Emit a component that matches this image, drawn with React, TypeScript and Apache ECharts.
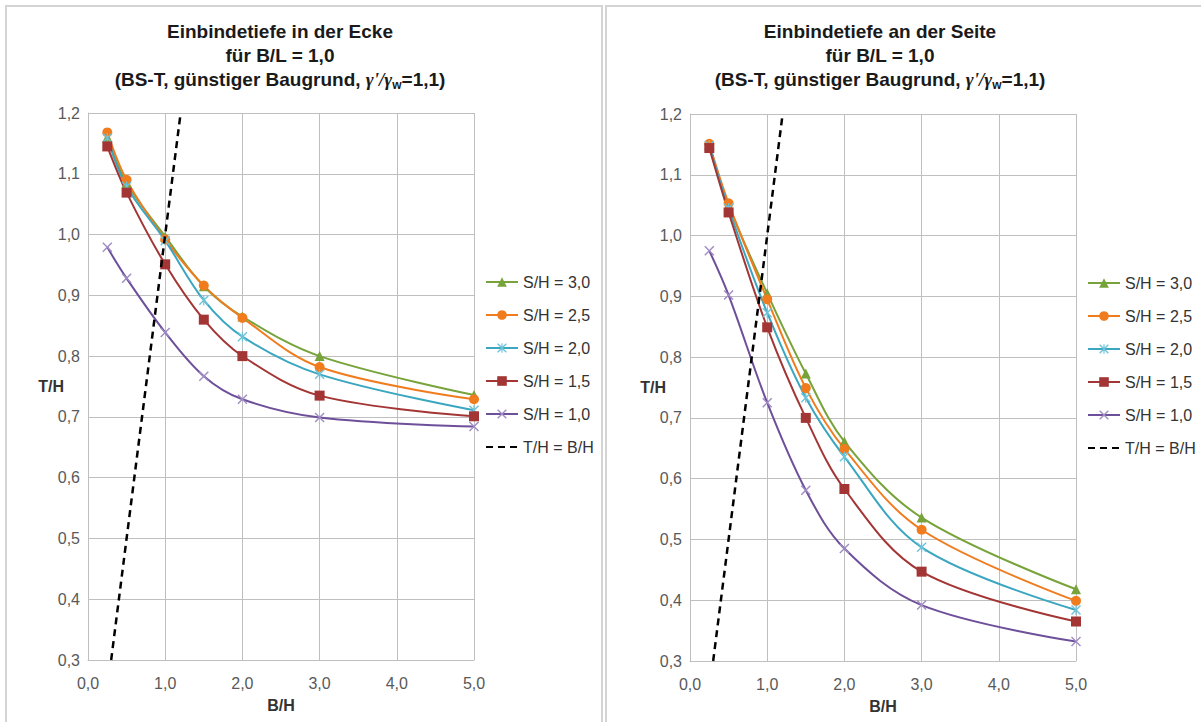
import React, { useEffect, useRef } from "react";
import * as echarts from "echarts";

// B/H values (x)
const bh = [0.25, 0.5, 1.0, 1.5, 2.0, 3.0, 5.0];

// Left chart: Einbindetiefe in der Ecke (T/H)
const ecke30 = [1.160, 1.085, 0.997, 0.915, 0.865, 0.800, 0.736];
const ecke25 = [1.168, 1.090, 0.992, 0.916, 0.863, 0.782, 0.729];
const ecke20 = [1.159, 1.079, 0.990, 0.892, 0.832, 0.770, 0.711];
const ecke15 = [1.145, 1.069, 0.951, 0.860, 0.800, 0.735, 0.701];
const ecke10 = [0.979, 0.928, 0.839, 0.767, 0.729, 0.699, 0.684];

// Right chart: Einbindetiefe an der Seite (T/H)
const seite30 = [1.150, 1.050, 0.905, 0.773, 0.661, 0.536, 0.418];
const seite25 = [1.151, 1.053, 0.895, 0.749, 0.649, 0.516, 0.399];
const seite20 = [1.148, 1.045, 0.873, 0.733, 0.636, 0.487, 0.384];
const seite15 = [1.144, 1.038, 0.849, 0.700, 0.583, 0.447, 0.365];
const seite10 = [0.975, 0.902, 0.725, 0.581, 0.485, 0.392, 0.332];

// Reference line T/H = B/H
const diagX = [0.3, 1.2];
const diagY = [0.3, 1.2];

const seriesNames = ["S/H = 3,0", "S/H = 2,5", "S/H = 2,0", "S/H = 1,5", "S/H = 1,0", "T/H = B/H"];
const seriesColors = ["#77A33A", "#F07C1E", "#3AA6C0", "#A33535", "#6E4F9A", "#000000"];

const xTicks = { min: 0, max: 5, interval: 1 };
const yTicks = { min: 0.3, max: 1.2, interval: 0.1 };

const titlesLeft = ["Einbindetiefe in der Ecke", "für B/L = 1,0"];
const titlesRight = ["Einbindetiefe an der Seite", "für B/L = 1,0"];

const CROSS = "path://M0,1 L1,0 L5,4 L9,0 L10,1 L6,5 L10,9 L9,10 L5,6 L1,10 L0,9 L4,5 Z";
const STAR = "path://M0,1 L1,0 L5,4 L9,0 L10,1 L6,5 L10,9 L9,10 L5,6 L1,10 L0,9 L4,5 Z M4.4,0 L5.6,0 L5.6,10 L4.4,10 Z";

const symbols = ["triangle", "circle", STAR, "rect", CROSS];
const symbolSizes = [10, 10, 10, 10, 10];
const symbolColors = ["#77A33A", "#F07C1E", "#6FC3D8", "#A33535", "#A08CC4"];

const fmt = (v: number) => v.toFixed(1).replace(".", ",");

export default function App() {
  const ref = useRef<HTMLDivElement>(null);

  useEffect(() => {
    if (!ref.current) return;
    const chart = echarts.init(ref.current, null, { renderer: "svg" });

    const pair = (ys: number[]) => bh.map((x, i) => [x, ys[i]]);
    const leftData = [ecke30, ecke25, ecke20, ecke15, ecke10];
    const rightData = [seite30, seite25, seite20, seite15, seite10];
    const diag = diagX.map((x, i) => [x, diagY[i]]);

    const makeSeries = (data: number[][], gi: number) => {
      const out: any[] = data.map((ys, k) => ({
        type: "line",
        name: seriesNames[k],
        xAxisIndex: gi,
        yAxisIndex: gi,
        data: pair(ys),
        smooth: 0.35,
        symbol: symbols[k],
        symbolSize: symbolSizes[k],
        showSymbol: true,
        lineStyle: { color: seriesColors[k], width: 2 },
        itemStyle: { color: symbolColors[k] },
        z: 3,
      }));
      out.push({
        type: "line",
        name: seriesNames[5],
        xAxisIndex: gi,
        yAxisIndex: gi,
        data: diag,
        symbol: "none",
        lineStyle: { color: "#000", width: 2.5, type: [7, 5] },
        itemStyle: { color: "#000", opacity: 0 },
        z: 4,
      });
      return out;
    };

    const axisLineStyle = { color: "#BFBFBF", width: 1 };
    const makeX = (gi: number) => ({
      type: "value",
      gridIndex: gi,
      ...xTicks,
      name: "B/H",
      nameLocation: "middle",
      nameGap: 37,
      nameMoveOverlap: false,
      nameTextStyle: { fontFamily: "Liberation Sans", fontWeight: "bold", fontSize: 16, color: "#333" },
      axisLine: { show: true, lineStyle: axisLineStyle },
      axisTick: { show: false },
      splitLine: { show: true, lineStyle: axisLineStyle },
      axisLabel: { formatter: fmt, fontFamily: "Liberation Sans", fontSize: 16, color: "#595959", margin: 15 },
    });
    const makeY = (gi: number) => ({
      type: "value",
      gridIndex: gi,
      ...yTicks,
      name: "T/H",
      nameLocation: "middle",
      nameRotate: 0,
      nameGap: 24,
      nameMoveOverlap: false,
      nameTextStyle: { fontFamily: "Liberation Sans", fontWeight: "bold", fontSize: 16, color: "#333" },
      axisLine: { show: true, lineStyle: axisLineStyle },
      axisTick: { show: false },
      splitLine: { show: true, lineStyle: axisLineStyle },
      axisLabel: { formatter: fmt, fontFamily: "Liberation Sans", fontSize: 16, color: "#595959", margin: 8 },
    });

    const richTitle = {
      b: { fontFamily: "Liberation Sans", fontWeight: "bold", fontSize: 19, color: "#1a1a1a", lineHeight: 24 },
      g: { fontFamily: "Liberation Serif", fontStyle: "italic", fontSize: 19, color: "#1a1a1a", lineHeight: 24 },
      s: { fontFamily: "Liberation Sans", fontSize: 12, color: "#1a1a1a", lineHeight: 14, verticalAlign: "bottom" },
    };
    const titleText = (lines: string[]) =>
      `{b|${lines[0]}}\n{b|${lines[1]}}\n{b|(BS-T, günstiger Baugrund, }{g|γ'/γ}{s|w}{b|=1,1)}`;

    const legendBase = {
      orient: "vertical",
      data: seriesNames,
      itemWidth: 32,
      itemHeight: 12,
      itemGap: 15,
      textStyle: { fontFamily: "Liberation Sans", fontSize: 16, color: "#333", lineHeight: 18 },
    };

    chart.setOption({
      animation: false,
      backgroundColor: "#fff",
      title: [
        { left: 280, top: 19, padding: 0, textAlign: "center", text: titleText(titlesLeft), textStyle: { rich: richTitle } },
        { left: 880, top: 19, padding: 0, textAlign: "center", text: titleText(titlesRight), textStyle: { rich: richTitle } },
      ],
      legend: [
        { ...legendBase, left: 485, top: 273, padding: 0 },
        { ...legendBase, left: 1087, top: 274, padding: 0 },
      ],
      grid: [
        { left: 88, top: 113, width: 386, height: 547 },
        { left: 690, top: 114, width: 386, height: 547 },
      ],
      xAxis: [makeX(0), makeX(1)],
      yAxis: [makeY(0), makeY(1)],
      series: [...makeSeries(leftData, 0), ...makeSeries(rightData, 1)],
      graphic: [
        { type: "rect", silent: true, z: -10, shape: { x: 6, y: 6, width: 596, height: 730 }, style: { fill: "none", stroke: "#D4D4D4", lineWidth: 2 } },
        { type: "rect", silent: true, z: -10, shape: { x: 606, y: 6, width: 610, height: 730 }, style: { fill: "none", stroke: "#D4D4D4", lineWidth: 2 } },
      ],
    });

    return () => chart.dispose();
  }, []);

  return (
    <div
      ref={ref}
      style={{ position: "fixed", left: 0, top: 0, width: 1201, height: 722, background: "#fff" }}
    />
  );
}
